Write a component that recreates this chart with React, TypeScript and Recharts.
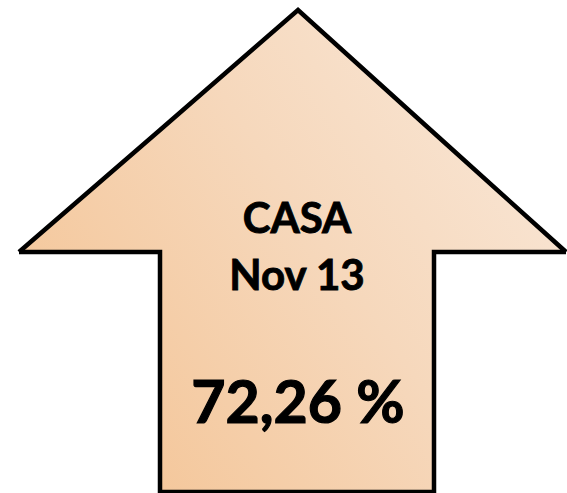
import { ComposedChart, Area, XAxis, YAxis } from "recharts";

// arrow outline: x position and [bottom, top] height of the shape
const edgeX = [19, 160, 160, 298, 434, 434, 566];
const edgeBottom = [241, 241, 1, 1, 1, 241, 241];
const edgeTop = [241, 363, 363, 483, 360, 360, 241];

const label = "CASA";
const period = "Nov 13";
const value = "72,26 %";

const data = edgeX.map((x, i) => ({ x, range: [edgeBottom[i], edgeTop[i]] }));

const FONT = 'Lato, "Open Sans", sans-serif';

export default function App() {
  return (
    <div style={{ position: "absolute", left: 0, top: 0, width: 567, height: 493 }}>
      <ComposedChart width={567} height={493} data={data} margin={{ top: 0, right: 0, bottom: 0, left: 0 }}>
        <defs>
          <linearGradient id="arrowFill" x1="0" y1="0.8" x2="1" y2="0.2">
            <stop offset="0%" stopColor="#F4C495" />
            <stop offset="55%" stopColor="#F6D8BC" />
            <stop offset="100%" stopColor="#F9E7D7" />
          </linearGradient>
        </defs>
        <XAxis type="number" dataKey="x" domain={[0, 567]} hide />
        <YAxis type="number" domain={[0, 493]} hide />
        <Area
          type="linear"
          dataKey="range"
          fill="url(#arrowFill)"
          fillOpacity={1}
          stroke="#000"
          strokeWidth={4.5}
          strokeLinejoin="miter"
          dot={false}
          activeDot={false}
          isAnimationActive={false}
        />
      </ComposedChart>
      <svg width={567} height={493} style={{ position: "absolute", left: 0, top: 0 }}>
        <g fontFamily={FONT} fontWeight="bold" fill="#000" stroke="#000" strokeWidth={0.9} textAnchor="middle">
          <text x={297} y={233} fontSize={42}>
            {label}
          </text>
          <text x={297} y={290} fontSize={42}>
            {period}
          </text>
          <text x={298} y={423} fontSize={59} strokeWidth={1.2}>
            {value}
          </text>
        </g>
      </svg>
    </div>
  );
}
